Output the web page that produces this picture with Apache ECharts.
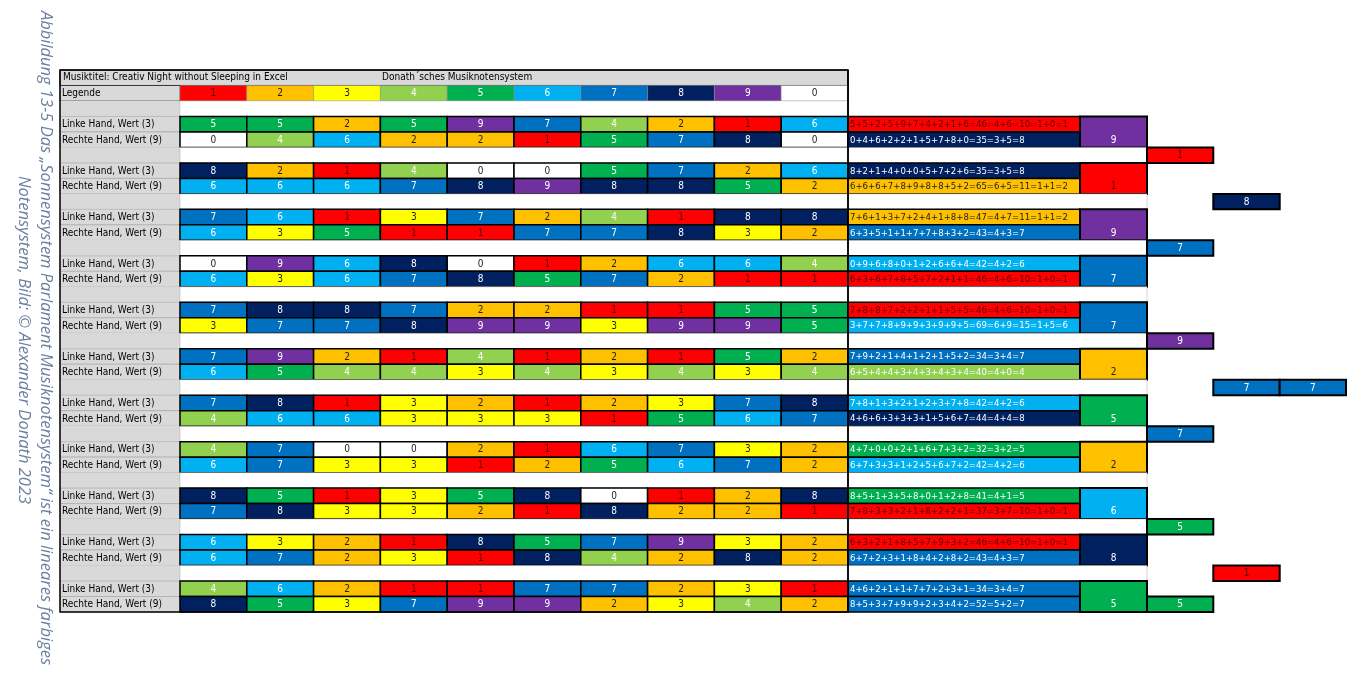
<!DOCTYPE html>
<html style="height: 100%">
<head>
    <meta charset="utf-8">
    <script src="https://cdn.jsdelivr.net/npm/echarts@6/dist/echarts.min.js"></script>
</head>
<body style="height: 100%; width: 100%; margin: 0; background-color: #fff;">
    <div id="container" style="width: 1366px; height: 690px;"></div>
    <script type="text/javascript">
        var titleText = 'Musiktitel: Creativ Night without Sleeping in Excel';
        var systemText = 'Donath´sches Musiknotensystem';
        var legendDigits = [1, 2, 3, 4, 5, 6, 7, 8, 9, 0];
        var leftLabel = 'Linke Hand, Wert (3)';
        var rightLabel = 'Rechte Hand, Wert (9)';

        var leftHand = [
            [5, 5, 2, 5, 9, 7, 4, 2, 1, 6],
            [8, 2, 1, 4, 0, 0, 5, 7, 2, 6],
            [7, 6, 1, 3, 7, 2, 4, 1, 8, 8],
            [0, 9, 6, 8, 0, 1, 2, 6, 6, 4],
            [7, 8, 8, 7, 2, 2, 1, 1, 5, 5],
            [7, 9, 2, 1, 4, 1, 2, 1, 5, 2],
            [7, 8, 1, 3, 2, 1, 2, 3, 7, 8],
            [4, 7, 0, 0, 2, 1, 6, 7, 3, 2],
            [8, 5, 1, 3, 5, 8, 0, 1, 2, 8],
            [6, 3, 2, 1, 8, 5, 7, 9, 3, 2],
            [4, 6, 2, 1, 1, 7, 7, 2, 3, 1]
        ];
        var rightHand = [
            [0, 4, 6, 2, 2, 1, 5, 7, 8, 0],
            [6, 6, 6, 7, 8, 9, 8, 8, 5, 2],
            [6, 3, 5, 1, 1, 7, 7, 8, 3, 2],
            [6, 3, 6, 7, 8, 5, 7, 2, 1, 1],
            [3, 7, 7, 8, 9, 9, 3, 9, 9, 5],
            [6, 5, 4, 4, 3, 4, 3, 4, 3, 4],
            [4, 6, 6, 3, 3, 3, 1, 5, 6, 7],
            [6, 7, 3, 3, 1, 2, 5, 6, 7, 2],
            [7, 8, 3, 3, 2, 1, 8, 2, 2, 1],
            [6, 7, 2, 3, 1, 8, 4, 2, 8, 2],
            [8, 5, 3, 7, 9, 9, 2, 3, 4, 2]
        ];
        var leftSums = [
            '5+5+2+5+9+7+4+2+1+6=46=4+6=10=1+0=1',
            '8+2+1+4+0+0+5+7+2+6=35=3+5=8',
            '7+6+1+3+7+2+4+1+8+8=47=4+7=11=1+1=2',
            '0+9+6+8+0+1+2+6+6+4=42=4+2=6',
            '7+8+8+7+2+2+1+1+5+5=46=4+6=10=1+0=1',
            '7+9+2+1+4+1+2+1+5+2=34=3+4=7',
            '7+8+1+3+2+1+2+3+7+8=42=4+2=6',
            '4+7+0+0+2+1+6+7+3+2=32=3+2=5',
            '8+5+1+3+5+8+0+1+2+8=41=4+1=5',
            '6+3+2+1+8+5+7+9+3+2=46=4+6=10=1+0=1',
            '4+6+2+1+1+7+7+2+3+1=34=3+4=7'
        ];
        var rightSums = [
            '0+4+6+2+2+1+5+7+8+0=35=3+5=8',
            '6+6+6+7+8+9+8+8+5+2=65=6+5=11=1+1=2',
            '6+3+5+1+1+7+7+8+3+2=43=4+3=7',
            '6+3+6+7+8+5+7+2+1+1=46=4+6=10=1+0=1',
            '3+7+7+8+9+9+3+9+9+5=69=6+9=15=1+5=6',
            '6+5+4+4+3+4+3+4+3+4=40=4+0=4',
            '4+6+6+3+3+3+1+5+6+7=44=4+4=8',
            '6+7+3+3+1+2+5+6+7+2=42=4+2=6',
            '7+8+3+3+2+1+8+2+2+1=37=3+7=10=1+0=1',
            '6+7+2+3+1+8+4+2+8+2=43=4+3=7',
            '8+5+3+7+9+9+2+3+4+2=52=5+2=7'
        ];
        var leftResults = [1, 8, 2, 6, 1, 7, 6, 5, 5, 1, 7];
        var rightResults = [8, 2, 7, 1, 6, 4, 8, 6, 1, 7, 7];
        var pairResults = [9, 1, 9, 7, 7, 2, 5, 2, 6, 8, 5];
        // [row, column right of result box, digit]
        var extras = [[5, 1, 1], [8, 2, 8], [11, 1, 7], [17, 1, 9], [20, 2, 7], [20, 3, 7],
                      [23, 1, 7], [29, 1, 5], [32, 2, 1], [34, 1, 5]];

        var palette = {1: '#ff0000', 2: '#ffc000', 3: '#ffff00', 4: '#92d050', 5: '#00b050',
                       6: '#00b0f0', 7: '#0070c0', 8: '#002060', 9: '#7030a0', 0: '#ffffff'};
        function textColor(d) {
            if (d === 1) return '#5a0000';
            return (d === 2 || d === 3 || d === 0) ? '#222' : '#fff';
        }

        // column boundaries in pixels from the left of the page
        var cellX = [];
        for (var i = 0; i <= 10; i++) cellX.push(180 + i * 66.8);
        var sumX = [848, 1080];
        var resX = [1080, 1147];
        var extraX = [1147, 1213.3, 1279.7, 1346];

        var cells = [];
        function add(x0, x1, r0, r1, fill, text, tc, opts) {
            opts = opts || {};
            cells.push({ value: [x0, x1, r0, r1], fill: fill, text: text, tc: tc,
                         left: !!opts.left, lw: opts.lw === undefined ? 1 : opts.lw,
                         stroke: opts.stroke || '#000', fs: opts.fs || 10 });
        }

        add(60, 848, 0, 1, '#d9d9d9', '', '#000', { lw: 1 });
        add(180, 848, 1, 2, '#ffffff', '', '#000', { lw: 0.5 });
        add(60, 180, 1, 2, '#d9d9d9', 'Legende', '#000', { left: true, lw: 0.5 });
        legendDigits.forEach(function (d, i) {
            add(cellX[i], cellX[i + 1], 1, 2, palette[d], String(d), textColor(d), { lw: 0.5, stroke: '#888' });
        });
        add(60, 180, 2, 3, '#d9d9d9', '', '#000', { lw: 0 });
        add(180, 848, 2, 3, '#ffffff', '', '#000', { lw: 0.5, stroke: '#bbb' });

        for (var k = 0; k < leftHand.length; k++) {
            var r = 3 + 3 * k;
            add(60, 180, r, r + 1, '#d9d9d9', leftLabel, '#000', { left: true, lw: 0.5, stroke: '#999' });
            add(60, 180, r + 1, r + 2, '#d9d9d9', rightLabel, '#000', { left: true, lw: 0.5, stroke: '#999' });
            for (var c = 0; c < 10; c++) {
                add(cellX[c], cellX[c + 1], r, r + 1, palette[leftHand[k][c]], String(leftHand[k][c]), textColor(leftHand[k][c]), { lw: 1.5 });
                add(cellX[c], cellX[c + 1], r + 1, r + 2, palette[rightHand[k][c]], String(rightHand[k][c]), textColor(rightHand[k][c]), { lw: 1.5 });
            }
            add(sumX[0], sumX[1], r, r + 1, palette[leftResults[k]], leftSums[k], textColor(leftResults[k]), { left: true, lw: 1.5, fs: 9.5 });
            add(sumX[0], sumX[1], r + 1, r + 2, palette[rightResults[k]], rightSums[k], textColor(rightResults[k]), { left: true, lw: 1.5, fs: 9.5 });
            add(resX[0], resX[1], r, r + 2, palette[pairResults[k]], '', '#000', { lw: 2 });
            if (k < leftHand.length - 1) {
                add(60, 180, r + 2, r + 3, '#d9d9d9', '', '#000', { lw: 0 });
                add(180, 1147, r + 2, r + 3, '#ffffff', '', '#000', { lw: 0.5, stroke: '#aaa' });
            }
        }
        // result digit placed low in the box
        pairResults.forEach(function (d, k) {
            var r = 3 + 3 * k;
            add(resX[0], resX[1], r + 1, r + 2, 'rgba(0,0,0,0)', String(d), textColor(d), { lw: 0 });
        });
        extras.forEach(function (e) {
            add(extraX[e[1] - 1], extraX[e[1]], e[0], e[0] + 1, palette[e[2]], String(e[2]), textColor(e[2]), { lw: 2 });
        });

        var myChart = echarts.init(document.getElementById('container'));
        var option = {
            animation: false,
            grid: { left: 0, right: 0, top: 70, height: 542 },
            xAxis: { type: 'value', min: 0, max: 1366, show: false },
            yAxis: { type: 'value', min: 0, max: 35, inverse: true, show: false },
            graphic: [
                { type: 'text', x: 46, y: 338, rotation: -Math.PI / 2, z: 100,
                  style: { text: 'Abbildung 13-5 Das \u201eSonnensystem Parlament Musiknotensystem\u201c ist ein lineares farbiges',
                           fill: '#6b7f9e', font: 'italic 16.5px "Open Sans", sans-serif', align: 'center', verticalAlign: 'middle' } },
                { type: 'text', x: 24, y: 340, rotation: -Math.PI / 2, z: 100,
                  style: { text: 'Notensystem, Bild: \u00a9 Alexander Donath 2023',
                           fill: '#6b7f9e', font: 'italic 16.5px "Open Sans", sans-serif', align: 'center', verticalAlign: 'middle' } },
                { type: 'text', x: 63, y: 77.5, z: 100,
                  style: { text: titleText, fill: '#000', font: '10px "DejaVu Sans Condensed", sans-serif', verticalAlign: 'middle' } },
                { type: 'text', x: 382, y: 77.5, z: 100,
                  style: { text: systemText, fill: '#000', font: '10px "DejaVu Sans Condensed", sans-serif', verticalAlign: 'middle' } },
                { type: 'line', z: 100, shape: { x1: 848, y1: 70, x2: 848, y2: 612 }, style: { stroke: '#000', lineWidth: 1.5 } },
                { type: 'rect', z: 100, shape: { x: 60, y: 70, width: 788, height: 542 }, style: { fill: 'none', stroke: '#000', lineWidth: 1.5 } }
            ],
            series: [{
                type: 'custom',
                data: cells,
                renderItem: function (params, api) {
                    var cell = cells[params.dataIndex];
                    var p0 = api.coord([api.value(0), api.value(2)]);
                    var p1 = api.coord([api.value(1), api.value(3)]);
                    var w = p1[0] - p0[0], h = p1[1] - p0[1];
                    return {
                        type: 'group',
                        children: [{
                            type: 'rect',
                            shape: { x: p0[0], y: p0[1], width: w, height: h },
                            style: { fill: cell.fill, stroke: cell.lw ? cell.stroke : null, lineWidth: cell.lw }
                        }, {
                            type: 'text',
                            x: cell.left ? p0[0] + 2 : p0[0] + w / 2,
                            y: p0[1] + h / 2 + 0.5,
                            style: { text: cell.text, fill: cell.tc, align: cell.left ? 'left' : 'center',
                                     verticalAlign: 'middle', font: cell.fs + 'px "DejaVu Sans Condensed", sans-serif' }
                        }]
                    };
                }
            }]
        };
        myChart.setOption(option, true);
    </script>
</body>
</html>
